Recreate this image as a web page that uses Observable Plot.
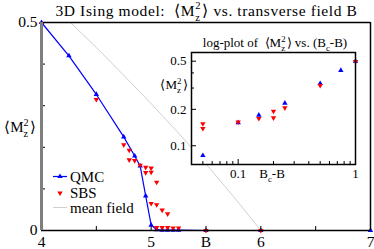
<!DOCTYPE html>
<html><head><meta charset="utf-8">
<script src="https://cdn.jsdelivr.net/npm/d3@7"></script>
<script src="https://cdn.jsdelivr.net/npm/@observablehq/plot@0.6"></script>
<style>
html,body{margin:0;padding:0;background:#fff;}
#chart{position:relative;width:374px;height:249px;overflow:hidden;background:#fff;}
#chart svg{position:absolute;}
</style></head><body><div id="chart"></div>
<script>
// ---- data ----
const qmcB = [4, 4.25, 4.5, 4.75, 4.85, 4.9, 4.95, 5.0, 5.05, 5.1, 5.15, 5.2, 5.25, 5.5, 6, 7];
const qmcM = [0.5, 0.42, 0.327, 0.225, 0.179, 0.155, 0.083, 0.013, 0.002, 0.001, 0.001, 0.001, 0.001, 0, 0, 0];
const sbsB = [4, 4.5, 4.75, 4.8, 4.8, 4.85, 4.9, 4.95, 4.95, 5.0, 5.0, 5.05, 5.0, 5.05, 5.1, 5.15, 5.05, 5.1, 5.15, 5.2, 5.25, 5.5, 6];
const sbsM = [0.497, 0.315, 0.206, 0.193, 0.17, 0.168, 0.157, 0.152, 0.139, 0.15, 0.14, 0.116, 0.065, 0.062, 0.049, 0.04, 0.007, 0.007, 0.007, 0.006, 0.006, 0, 0];
const mfB = [4.264, 4.5, 4.75, 5.0, 5.25, 5.5, 5.75, 6.0];
const mfM = [0.5, 0.44, 0.373, 0.305, 0.234, 0.16, 0.082, 0];
const Bc = 5;
const xMinorTicks = [4, 4.5, 5, 5.5, 6, 6.5, 7];
const xLabelTicks = [4, 5, 5.5, 6, 7];
const xLabels = ["4", "5", "B", "6", "7"];
const yMinorTicks = [0, 0.1, 0.2, 0.3, 0.4, 0.5];
const yLabelTicks = [0, 0.5];
const yLabels = ["0", "0.5"];
const insetXMinor = [0.04, 0.05, 0.06, 0.07, 0.08, 0.09, 0.2, 0.3, 0.4, 0.5, 0.6, 0.7, 0.8, 0.9];
const insetXMajor = [0.1, 1];
const insetXLabels = ["0.1", "1"];
const insetYMinor = [0.3, 0.4];
const insetYMajor = [0.1, 0.2, 0.5];
const insetYLabels = ["0.1", "0.2", "0.5"];

const qmc = qmcB.map((B, i) => ({B, M: qmcM[i]}));
const sbs = sbsB.map((B, i) => ({B, M: sbsM[i]}));
const mf = mfB.map((B, i) => ({B, M: mfM[i]}));
const qmcIn = qmc.filter(d => d.B < Bc).map(d => ({x: Bc - d.B, M: d.M}));
const sbsIn = sbs.filter(d => d.B < Bc).map(d => ({x: Bc - d.B, M: d.M}));

const FONT = "'Liberation Serif','Times New Roman',serif";
const BLUE = "#0000ff", RED = "#ff0000", MFGRAY = "#d0d0d0";
const lab = (ticks, labels) => d => labels[ticks.indexOf(d)];

const main = Plot.plot({
  width: 374, height: 249,
  marginLeft: 41, marginRight: 4, marginTop: 22, marginBottom: 19,
  style: {fontFamily: FONT, fontSize: "14px", background: "none", color: "black", overflow: "visible"},
  x: {domain: [4, 7]},
  y: {domain: [0, 0.5]},
  marks: [
    Plot.line(mf, {x: "B", y: "M", stroke: MFGRAY, strokeWidth: 1}),
    Plot.line(qmc, {x: "B", y: "M", stroke: BLUE, strokeWidth: 1.2}),
    Plot.dot(qmc, {x: "B", y: "M", symbol: "triangle", fill: BLUE, r: 2}),
    Plot.dot(sbs, {x: "B", y: "M", symbol: "triangle", fill: RED, r: 2, rotate: 180}),
    Plot.axisX({ticks: xMinorTicks, tickSize: -4, tickFormat: () => "", label: null}),
    Plot.axisX({ticks: xLabelTicks, tickSize: 0, tickPadding: 5, tickFormat: lab(xLabelTicks, xLabels), label: null, fontSize: 15.5}),
    Plot.axisY({ticks: yMinorTicks, tickSize: -4, tickFormat: () => "", label: null}),
    Plot.axisY({ticks: yLabelTicks, tickSize: 0, tickPadding: 4, tickFormat: lab(yLabelTicks, yLabels), label: null, fontSize: 15.5}),
    Plot.ruleY([0.5], {stroke: "black", strokeWidth: 1.5}),
    Plot.ruleY([0], {stroke: "black", strokeWidth: 1.5}),
    Plot.ruleX([7], {stroke: "black", strokeWidth: 1.5}),
    Plot.ruleX([4], {stroke: "#7f7f7f", strokeWidth: 3})
  ]
});

const inset = Plot.plot({
  width: 224, height: 156,
  marginLeft: 41, marginRight: 19, marginTop: 22, marginBottom: 22,
  style: {fontFamily: FONT, fontSize: "13px", background: "none", color: "black", overflow: "visible"},
  x: {type: "log", domain: [0.04, 1]},
  y: {type: "log", domain: [0.07, 0.59]},
  marks: [
    Plot.frame({fill: "white", stroke: "none"}),
    Plot.dot(qmcIn, {x: "x", y: "M", symbol: "triangle", fill: BLUE, r: 2}),
    Plot.dot(sbsIn, {x: "x", y: "M", symbol: "triangle", fill: RED, r: 2, rotate: 180}),
    Plot.axisX({ticks: insetXMinor, tickSize: -3, tickFormat: () => "", label: null}),
    Plot.axisX({ticks: insetXMajor, tickSize: -5, tickFormat: () => "", label: null}),
    Plot.axisX({ticks: insetXMajor, tickSize: 0, tickPadding: 4, tickFormat: lab(insetXMajor, insetXLabels), label: null}),
    Plot.axisY({ticks: insetYMinor, tickSize: -3, tickFormat: () => "", label: null}),
    Plot.axisY({ticks: insetYMajor, tickSize: -5, tickFormat: () => "", label: null}),
    Plot.axisY({ticks: insetYMajor, tickSize: 0, tickPadding: 5, tickFormat: lab(insetYMajor, insetYLabels), label: null}),
    Plot.frame({stroke: "black", strokeWidth: 1.5})
  ]
});

const chart = document.getElementById("chart");
main.style.left = "0px"; main.style.top = "0px";
inset.style.left = "150px"; inset.style.top = "30px";
chart.appendChild(main);
chart.appendChild(inset);

// text with stacked super/subscript: <M_z^2>
function mzText(svg, x, y, fs, anchor, before, after, spacing) {
  const t = d3.select(svg).append("text")
    .attr("x", x).attr("y", y).attr("text-anchor", anchor)
    .attr("font-family", FONT).attr("font-size", fs).attr("fill", "black")
    .attr("letter-spacing", spacing || 0);
  t.append("tspan").text(before + "\u27E8M");
  const s = fs * 0.68;
  t.append("tspan").attr("font-size", s).attr("dy", -fs * 0.42).text("2");
  t.append("tspan").attr("font-size", s).attr("dx", -s * 0.5 - (spacing || 0)).attr("dy", fs * 0.72).text("z");
  t.append("tspan").attr("dy", -fs * 0.30).attr("dx", fs * 0.12).text("\u27E9" + after);
  return t;
}
mzText(main, 206.5, 16, 15.5, "middle", "3D Ising model:  ", " vs. transverse field B", 0.6);
mzText(main, 20, 132, 15, "middle", "", "");
const insetTitle = mzText(inset, 125, 17, 13, "middle", "log-plot of  ", " vs. (B");
insetTitle.append("tspan").attr("font-size", 13 * 0.68).attr("dy", 3.5).text("c");
insetTitle.append("tspan").attr("dy", -3.5).text("-B)");
mzText(inset, 24, 59, 13, "middle", "", "");

// inset x label B_c-B
{
  const t = d3.select(inset).append("text").attr("x", 122).attr("y", 148).attr("text-anchor", "middle")
    .attr("font-family", FONT).attr("font-size", 13);
  t.append("tspan").text("B");
  t.append("tspan").attr("font-size", 13 * 0.68).attr("dy", 3.5).text("c");
  t.append("tspan").attr("dy", -3.5).text("-B");
}

// legend
{
  const g = d3.select(main).append("g").attr("font-family", FONT).attr("font-size", 15).attr("text-anchor", "start");
  const tri = d3.symbol(d3.symbolTriangle, Math.PI * 4)();
  g.append("line").attr("x1", 53).attr("x2", 67).attr("y1", 176.5).attr("y2", 176.5).attr("stroke", BLUE).attr("stroke-width", 1.2);
  g.append("path").attr("d", tri).attr("transform", "translate(60,176.5)").attr("fill", BLUE);
  g.append("text").attr("x", 70).attr("y", 181.5).text("QMC");
  g.append("path").attr("d", tri).attr("transform", "translate(60,193) rotate(180)").attr("fill", RED);
  g.append("text").attr("x", 70).attr("y", 197.5).text("SBS");
  g.append("line").attr("x1", 53).attr("x2", 67).attr("y1", 207.5).attr("y2", 207.5).attr("stroke", MFGRAY).attr("stroke-width", 1);
  g.append("text").attr("x", 70).attr("y", 213).text("mean field");
}
</script></body></html>
